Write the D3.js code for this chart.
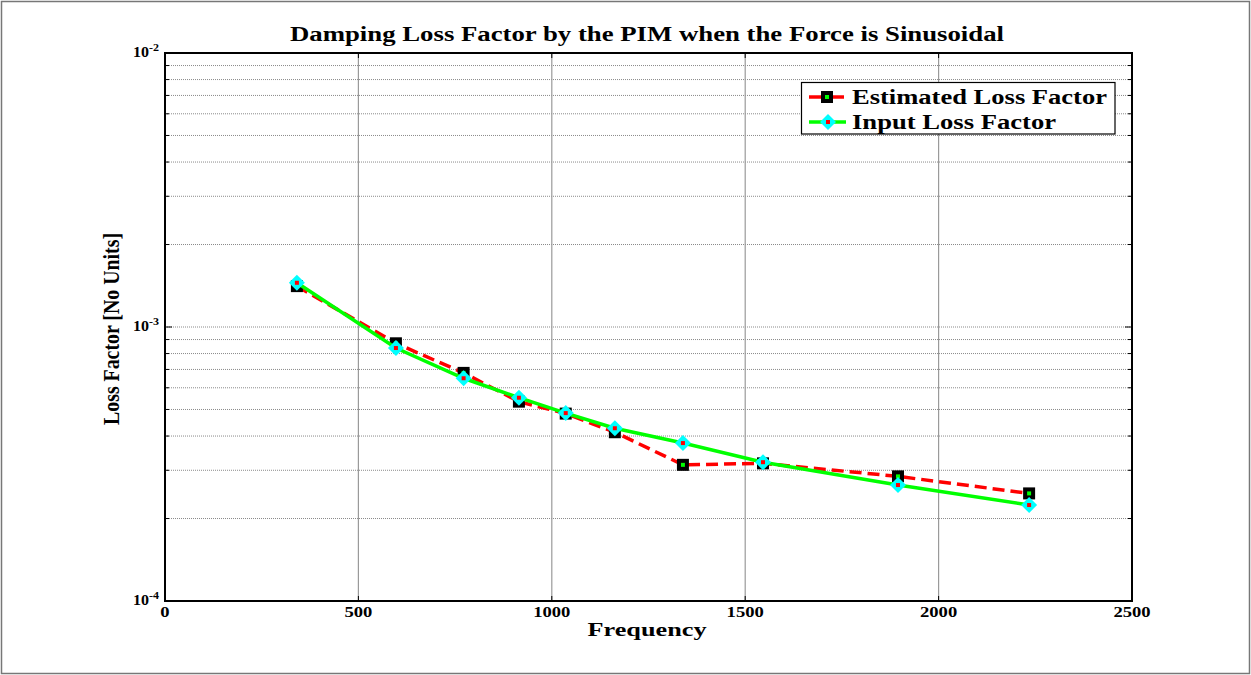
<!DOCTYPE html>
<html>
<head>
<meta charset="utf-8">
<script src="https://cdn.jsdelivr.net/npm/d3@7"></script>
<style>
  html, body { margin: 0; padding: 0; background: #fff; }
  svg { display: block; }
  text { font-family: "Liberation Serif", "Times New Roman", serif; font-weight: bold; fill: #000; }
</style>
</head>
<body>
<script>
// Frequencies (Hz) of the identified modes
const frequency = [341, 597, 772, 915, 1036, 1163, 1339, 1546, 1895, 2234];
// Loss factor estimated with the PIM
const estimatedLoss = [1.41e-3, 8.72e-4, 6.80e-4, 5.34e-4, 4.83e-4, 4.13e-4, 3.14e-4, 3.18e-4, 2.85e-4, 2.47e-4];
// Loss factor used as input
const inputLoss = [1.45e-3, 8.38e-4, 6.50e-4, 5.52e-4, 4.85e-4, 4.27e-4, 3.77e-4, 3.21e-4, 2.65e-4, 2.24e-4];

const xTicks = [0, 500, 1000, 1500, 2000, 2500];
const yDecades = [-4, -3, -2];
const seriesNames = ["Estimated Loss Factor", "Input Loss Factor"];

const W = 1251, H = 675;
const plot = { left: 165, right: 1132, top: 53, bottom: 601 };

const svg = d3.select("body").append("svg").attr("width", W).attr("height", H);

// figure frame
svg.append("rect").attr("x", 1.5).attr("y", 1.5).attr("width", W - 3).attr("height", H - 3)
  .attr("fill", "#fff").attr("stroke", "#777").attr("stroke-width", 1.5);

const x = d3.scaleLinear().domain([0, 2500]).range([plot.left, plot.right]);
const y = d3.scaleLog().domain([1e-4, 1e-2]).range([plot.bottom, plot.top]);

// minor log positions 2..9 in each decade
const yMinor = [];
[-4, -3].forEach(e => { for (let k = 2; k <= 9; k++) yMinor.push(k * Math.pow(10, e)); });
const yMajor = yDecades.map(e => Math.pow(10, e));

const grid = svg.append("g");
// horizontal grid (dotted)
grid.selectAll("line.h").data(yMinor.concat([1e-3])).join("line")
  .attr("x1", plot.left).attr("x2", plot.right)
  .attr("y1", d => y(d)).attr("y2", d => y(d))
  .attr("stroke", "#8a8a8a").attr("stroke-width", 1).attr("stroke-dasharray", "1,1");
// vertical grid
grid.selectAll("line.v").data(xTicks.slice(1, -1)).join("line")
  .attr("x1", d => x(d)).attr("x2", d => x(d))
  .attr("y1", plot.top).attr("y2", plot.bottom)
  .attr("stroke", "#9a9a9a").attr("stroke-width", 1.2);

// axes with inward ticks on all four sides
const tickLen = 5;
const axisG = svg.append("g").attr("stroke", "#000").attr("stroke-width", 1);
xTicks.forEach(t => {
  axisG.append("line").attr("x1", x(t)).attr("x2", x(t)).attr("y1", plot.bottom).attr("y2", plot.bottom - tickLen);
  axisG.append("line").attr("x1", x(t)).attr("x2", x(t)).attr("y1", plot.top).attr("y2", plot.top + tickLen);
});
yMinor.concat(yMajor).forEach(t => {
  const len = yMajor.includes(t) ? tickLen + 2 : tickLen - 1;
  axisG.append("line").attr("x1", plot.left).attr("x2", plot.left + len).attr("y1", y(t)).attr("y2", y(t));
  axisG.append("line").attr("x1", plot.right).attr("x2", plot.right - len).attr("y1", y(t)).attr("y2", y(t));
});
svg.append("rect").attr("x", plot.left).attr("y", plot.top)
  .attr("width", plot.right - plot.left).attr("height", plot.bottom - plot.top)
  .attr("fill", "none").attr("stroke", "#000").attr("stroke-width", 2);

// x tick labels (wide bold digits)
svg.append("g").selectAll("text").data(xTicks).join("text")
  .attr("x", d => x(d)).attr("y", plot.bottom + 16)
  .attr("text-anchor", "middle").attr("font-size", 15)
  .attr("textLength", d => String(d).length * 9.3).attr("lengthAdjust", "spacingAndGlyphs")
  .text(d => d);

// y tick labels: 10^e
const yl = svg.append("g").selectAll("text").data(yDecades).join("text")
  .attr("x", plot.left - 32).attr("y", d => y(Math.pow(10, d)) + 4)
  .attr("font-size", 14);
yl.append("tspan").attr("textLength", 16).attr("lengthAdjust", "spacingAndGlyphs").text("10");
yl.append("tspan").attr("dy", -6).attr("font-size", 10)
  .attr("textLength", 10).attr("lengthAdjust", "spacingAndGlyphs").text(d => d);

// title
svg.append("text").attr("x", 647).attr("y", 41).attr("text-anchor", "middle")
  .attr("font-size", 20).attr("textLength", 714).attr("lengthAdjust", "spacingAndGlyphs")
  .text("Damping Loss Factor by the PIM when the Force is Sinusoidal");

// axis labels
svg.append("text").attr("x", 647).attr("y", 636).attr("text-anchor", "middle")
  .attr("font-size", 19).attr("textLength", 119).attr("lengthAdjust", "spacingAndGlyphs")
  .text("Frequency");
svg.append("text").attr("transform", `translate(119,329) rotate(-90)`)
  .attr("text-anchor", "middle").attr("font-size", 24)
  .attr("textLength", 192).attr("lengthAdjust", "spacingAndGlyphs")
  .text("Loss Factor [No Units]");

// series
const estData = frequency.map((f, i) => [f, estimatedLoss[i]]);
const inData = frequency.map((f, i) => [f, inputLoss[i]]);
const line = d3.line().x(d => x(d[0])).y(d => y(d[1]));

const series = svg.append("g");
series.append("path").datum(estData).attr("d", line)
  .attr("fill", "none").attr("stroke", "#ff0000").attr("stroke-width", 3.5)
  .attr("stroke-dasharray", "12,6");

function drawSquare(g, cx, cy) {
  g.append("rect").attr("x", cx - 6).attr("y", cy - 6).attr("width", 12).attr("height", 12)
    .attr("fill", "#000");
  g.append("rect").attr("x", cx - 2).attr("y", cy - 2).attr("width", 4).attr("height", 4)
    .attr("fill", "#00ff00");
}
function drawDiamond(g, cx, cy) {
  g.append("path").attr("d", `M${cx},${cy - 8}L${cx + 8},${cy}L${cx},${cy + 8}L${cx - 8},${cy}Z`)
    .attr("fill", "#00ffff");
  g.append("rect").attr("x", cx - 2).attr("y", cy - 2).attr("width", 4).attr("height", 4)
    .attr("fill", "#ff0000");
}

const estMarks = series.append("g");
estData.forEach(d => drawSquare(estMarks, x(d[0]), y(d[1])));

series.append("path").datum(inData).attr("d", line)
  .attr("fill", "none").attr("stroke", "#00ff00").attr("stroke-width", 3.5);
const inMarks = series.append("g");
inData.forEach(d => drawDiamond(inMarks, x(d[0]), y(d[1])));

// legend
const lg = svg.append("g");
lg.append("rect").attr("x", 801.5).attr("y", 82.5).attr("width", 313.5).attr("height", 51.5)
  .attr("fill", "#fff").attr("stroke", "#000").attr("stroke-width", 1.2);
const rows = [97, 122];
lg.append("line").attr("x1", 809).attr("x2", 844).attr("y1", rows[0]).attr("y2", rows[0])
  .attr("stroke", "#ff0000").attr("stroke-width", 3.5);
drawSquare(lg, 827, rows[0]);
lg.append("line").attr("x1", 809).attr("x2", 846).attr("y1", rows[1]).attr("y2", rows[1])
  .attr("stroke", "#00ff00").attr("stroke-width", 3.5);
drawDiamond(lg, 828, rows[1]);
lg.selectAll("text").data(seriesNames).join("text")
  .attr("x", 852).attr("y", (d, i) => rows[i] + 7)
  .attr("font-size", 20)
  .attr("textLength", (d, i) => i === 0 ? 255 : 204).attr("lengthAdjust", "spacingAndGlyphs")
  .text(d => d);
</script>
</body>
</html>
